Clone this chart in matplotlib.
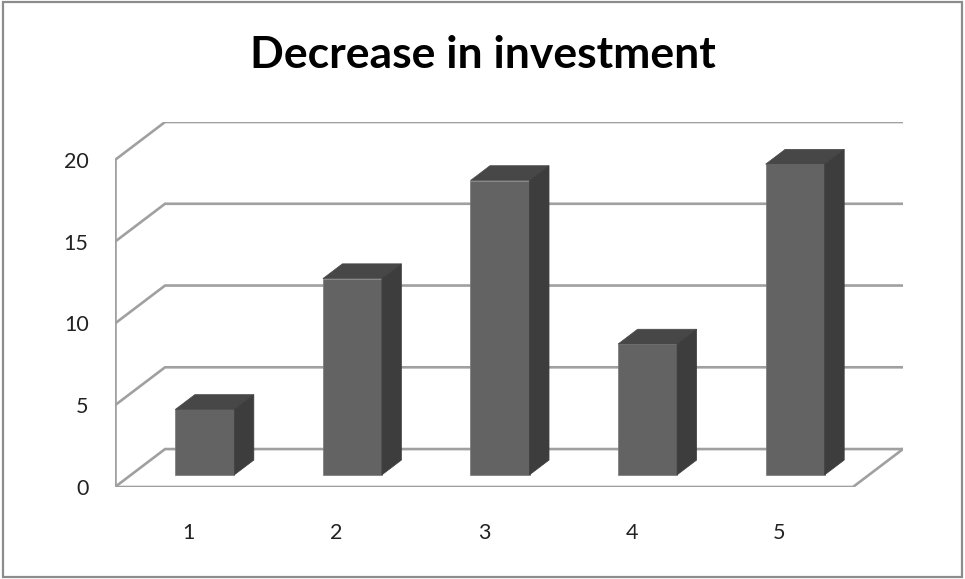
import matplotlib
matplotlib.use('Agg')
import matplotlib.pyplot as plt
from matplotlib.patches import Polygon, Rectangle

categories = ['1', '2', '3', '4', '5']
values = [4, 12, 18, 8, 19]
yticks = [0, 5, 10, 15, 20]

# depth of the fake 3d box, in data units
DX = 0.339
DY = 2.32
# bar sits between these depth fractions
F0 = 0.32
F1 = 0.71
W = 0.4

front_col = '#636363'
top_col = '#474747'
side_col = '#3d3d3d'
grid_col = '#a0a0a0'

plt.rcParams['font.family'] = ['Lato', 'DejaVu Sans']

fig = plt.figure(figsize=(9.65, 5.79), dpi=100)
ax = fig.add_axes([115 / 965, 1 - 487 / 579, (903 - 115) / 965, (487 - 122) / 579])
ax.set_xlim(0.5, 5.5 + DX)
ax.set_ylim(0, 20 + DY)

# gridlines: diagonal on the left wall then across the back wall
for t in yticks:
    ax.plot([0.5, 0.5 + DX, 5.5 + DX], [t, t + DY, t + DY], color=grid_col, lw=1.9,
            solid_joinstyle='miter', zorder=1)
ax.plot([0.5, 0.5], [0, yticks[-1]], color=grid_col, lw=1.9, zorder=1)
ax.plot([0.5, 5.5, 5.5 + DX], [0, 0, DY], color=grid_col, lw=1.9, zorder=1)

x = list(range(1, len(values) + 1))
xf = [i + F0 * DX for i in x]
ax.bar(xf, values, width=W, bottom=F0 * DY, color=front_col, edgecolor='#777777',
       linewidth=0.5, zorder=3)

ddx = (F1 - F0) * DX
ddy = (F1 - F0) * DY
for xc, v in zip(xf, values):
    l, r = xc - W / 2, xc + W / 2
    b, t = F0 * DY, v + F0 * DY
    top = Polygon([(l, t), (r, t), (r + ddx, t + ddy), (l + ddx, t + ddy)],
                  closed=True, facecolor=top_col, edgecolor=top_col, lw=0.5, zorder=3)
    side = Polygon([(r, b), (r + ddx, b + ddy), (r + ddx, t + ddy), (r, t)],
                   closed=True, facecolor=side_col, edgecolor=side_col, lw=0.5, zorder=3)
    ax.add_patch(top)
    ax.add_patch(side)

ax.set_xticks(x)
ax.set_xticklabels(categories)
ax.set_yticks(yticks)
ax.set_yticklabels([str(t) for t in yticks])
ax.tick_params(axis='both', length=0, labelsize=15.5, colors='#222222')
ax.tick_params(axis='y', pad=19)
ax.tick_params(axis='x', pad=26)
for s in ax.spines.values():
    s.set_visible(False)

fig.text(0.5, 1 - 55 / 579, 'Decrease in investment', ha='center', va='center',
         fontsize=32, fontweight='bold', color='black')

fig.patches.append(Rectangle((0.003, 0.003), 0.994, 0.994, transform=fig.transFigure,
                             fill=False, edgecolor='#8c8c8c', lw=1.6))

plt.savefig('out.png', dpi=100)
